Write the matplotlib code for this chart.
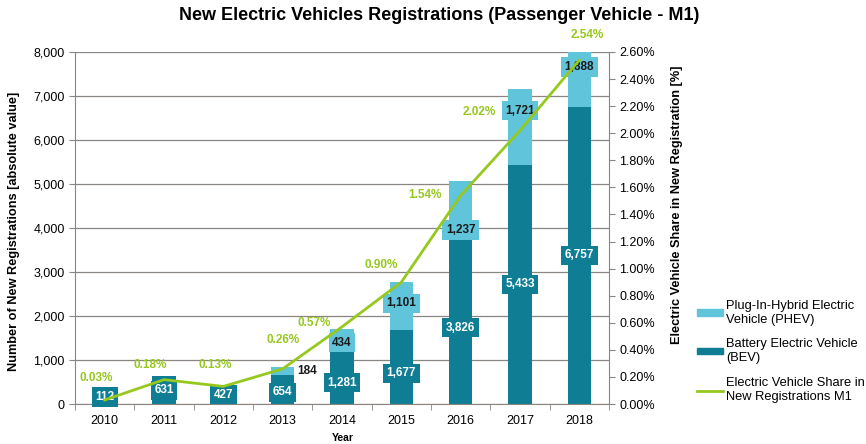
import numpy as np
import matplotlib
matplotlib.use('Agg')
import matplotlib.pyplot as plt
from matplotlib.patches import Patch
from matplotlib.lines import Line2D

plt.rcParams['font.family'] = ['Liberation Sans', 'DejaVu Sans']

years = ['2010', '2011', '2012', '2013', '2014', '2015', '2016', '2017', '2018']
bev = [112, 631, 427, 654, 1281, 1677, 3826, 5433, 6757]
phev = [0, 0, 0, 184, 434, 1101, 1237, 1721, 1888]
share = [0.03, 0.18, 0.13, 0.26, 0.57, 0.90, 1.54, 2.02, 2.54]

bev_col = '#0F7E95'
phev_col = '#60C5DB'
line_col = '#96C81E'
grid_col = '#8a8580'

fig = plt.figure(figsize=(8.66, 4.44), dpi=100)
ax = fig.add_axes([0.0866, 0.090, 0.6166, 0.793])
x = np.arange(len(years))
w = 0.39

ax.bar(x, bev, w, color=bev_col, zorder=2)
ax.bar(x, phev, w, bottom=bev, color=phev_col, zorder=2)

ax.set_ylim(0, 8000)
ax.set_xlim(-0.5, len(years) - 0.5)
ax.set_yticks(range(0, 8001, 1000))
ax.set_yticklabels([f'{v:,}' for v in range(0, 8001, 1000)])
ax.set_xticks(x)
ax.set_xticklabels(years)
ax.set_xticks(np.arange(-0.5, len(years), 1), minor=True)
ax.tick_params(axis='x', which='major', length=0, labelsize=9, pad=8)
ax.tick_params(axis='x', which='minor', length=4, color=grid_col)
ax.tick_params(axis='y', labelsize=9, length=4, color=grid_col)
ax.yaxis.grid(True, color=grid_col, lw=0.9, zorder=0)
for s in ['top', 'right']:
    ax.spines[s].set_visible(False)
for s in ['left', 'bottom']:
    ax.spines[s].set_color(grid_col)
ax.set_ylabel('Number of New Registrations [absolute value]', fontsize=9.2,
              fontweight='bold', va='center')
ax.yaxis.set_label_coords(-0.114, 0.49)
ax.set_xlabel('Year', fontsize=7.5, fontweight='bold', va='center')
ax.xaxis.set_label_coords(0.502, -0.097)

# BEV labels (white on dark box)
bev_dy = [0, 0, 0, -60, -160, -140, -180, 0, 0]
for i, v in enumerate(bev):
    y = max(v / 2, 160) + bev_dy[i]
    ax.text(i, y, f'{v:,}', ha='center', va='center', color='white', fontsize=8.5,
            fontweight='bold', zorder=5,
            bbox=dict(boxstyle='square,pad=0.3', fc=bev_col, ec='none'))

# PHEV labels
phev_dy = [0, 0, 0, 0, -110, 60, -490, 366, 280]
for i, v in enumerate(phev):
    if v == 0:
        continue
    if i == 3:
        ax.text(i + 0.25, bev[i] + v / 2, f'{v:,}', ha='left', va='center',
                color='#1a1a1a', fontsize=8.5, fontweight='bold', zorder=5)
        continue
    top = min(bev[i] + v, 8000)
    y = (bev[i] + top) / 2 + phev_dy[i]
    ax.text(i, y, f'{v:,}', ha='center', va='center', color='#1a1a1a', fontsize=8.5,
            fontweight='bold', zorder=5,
            bbox=dict(boxstyle='square,pad=0.3', fc=phev_col, ec='none'))

ax2 = ax.twinx()
ax2.plot(x, share, color=line_col, lw=2, zorder=6)
ax2.set_ylim(0, 2.6)
ax2.set_yticks(np.arange(0, 2.61, 0.2))
ax2.set_yticklabels([f'{v:.2f}%' for v in np.arange(0, 2.61, 0.2)])
ax2.tick_params(axis='y', labelsize=9, length=4, color=grid_col)
for s in ['top', 'left', 'bottom']:
    ax2.spines[s].set_visible(False)
ax2.spines['right'].set_color(grid_col)
ax2.set_ylabel('Electric Vehicle Share in New Registration [%]', fontsize=9.2,
               fontweight='bold', va='center')
ax2.yaxis.set_label_coords(1.127, 0.565)

# share labels
share_off = [(-0.14, 0.16), (-0.24, 0.11), (-0.14, 0.155), (0.0, 0.21), (-0.47, 0.03),
             (-0.34, 0.13), (-0.61, 0.0), (-0.69, 0.14), (0.14, 0.185)]
for i, v in enumerate(share):
    dx, dy = share_off[i]
    ax2.text(i + dx, v + dy, f'{v:.2f}%', ha='center', va='center', color=line_col,
             fontsize=8.5, fontweight='bold', zorder=7, clip_on=False)

fig.suptitle('New Electric Vehicles Registrations (Passenger Vehicle - M1)',
             fontsize=13, fontweight='bold', x=0.507, y=0.985)

handles = [Patch(color=phev_col), Patch(color=bev_col), Line2D([], [], color=line_col, lw=2)]
labels = ['Plug-In-Hybrid Electric\nVehicle (PHEV)', 'Battery Electric Vehicle\n(BEV)',
          'Electric Vehicle Share in\nNew Registrations M1']
fig.legend(handles, labels, loc='upper left', bbox_to_anchor=(0.805, 0.325), frameon=False,
           fontsize=9.3, handlelength=2.0, handleheight=0.35, handletextpad=0.25,
           labelspacing=1.0, borderpad=0, borderaxespad=0)

fig.savefig('out.png', dpi=100)
